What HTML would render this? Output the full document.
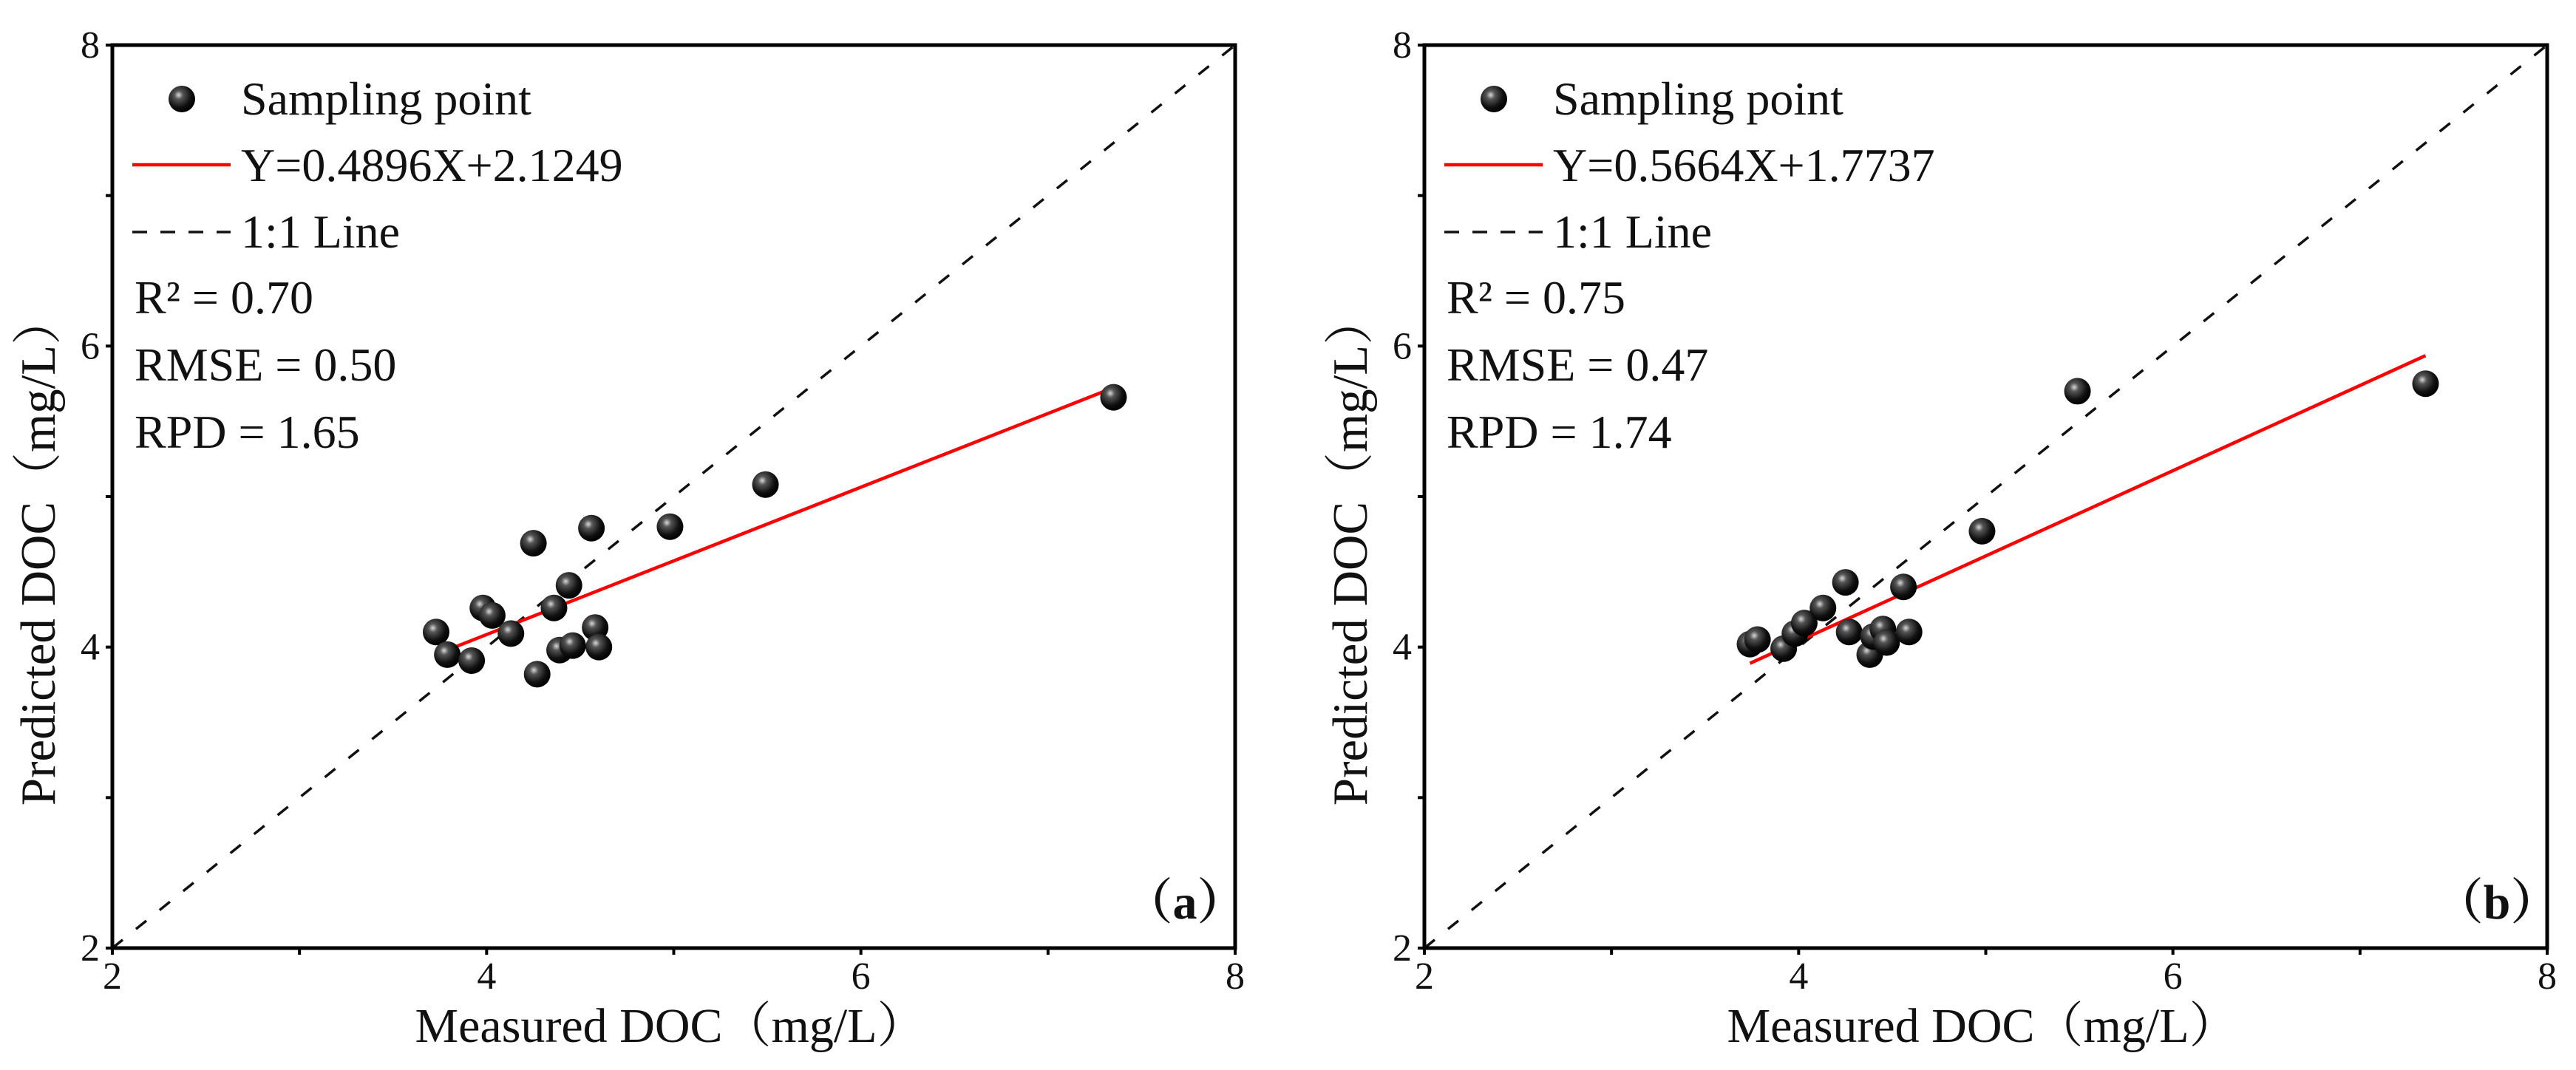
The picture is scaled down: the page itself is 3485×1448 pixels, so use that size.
<!DOCTYPE html>
<html><head><meta charset="utf-8"><style>
html,body{margin:0;padding:0;background:#fff}
svg{display:block}
svg text{font-family:"Liberation Serif","Noto Serif CJK SC",serif;fill:#111}
</style></head><body>
<svg id="chart" width="3485" height="1448" viewBox="0 0 3485 1448" xmlns="http://www.w3.org/2000/svg" font-family="Liberation Serif, Noto Serif CJK SC, serif">
<defs>
<radialGradient id="ball" cx="0.38" cy="0.35" r="0.65">
<stop offset="0" stop-color="#d8d8d8"/><stop offset="0.25" stop-color="#555"/><stop offset="0.7" stop-color="#111"/><stop offset="1" stop-color="#000"/>
</radialGradient>
</defs>
</svg>
<script>
const ticks=[2,3,4,5,6,7,8];
const tickLabels=["2","4","6","8"];
const labelVals=[2,4,6,8];
const aMeasured=[3.73,3.79,3.92,3.98,4.03,4.13,4.25,4.27,4.36,4.39,4.44,4.46,4.56,4.58,4.60,4.98,5.49,7.35];
const aPredicted=[4.10,3.95,3.91,4.26,4.21,4.09,4.69,3.82,4.26,3.98,4.41,4.01,4.79,4.13,4.00,4.80,5.08,5.66];
const bMeasured=[3.74,3.78,3.92,3.98,4.03,4.13,4.25,4.27,4.38,4.40,4.45,4.47,4.56,4.59,4.98,5.49,7.35];
const bPredicted=[4.02,4.05,3.99,4.09,4.16,4.26,4.43,4.10,3.95,4.07,4.12,4.03,4.40,4.10,4.77,5.70,5.75];
const aFit=[0.4896,2.1249];
const bFit=[0.5664,1.7737];
const aStats=["R² = 0.70","RMSE = 0.50","RPD = 1.65"];
const bStats=["R² = 0.75","RMSE = 0.47","RPD = 1.74"];

const svg=document.getElementById('chart');
const NS='http://www.w3.org/2000/svg';
const FF='"Liberation Serif","Noto Serif CJK SC",serif';
function mk(tag,attrs,parent){const e=document.createElementNS(NS,tag);for(const k in attrs)e.setAttribute(k,attrs[k]);if(tag==='text')e.style.fontFamily=FF;(parent||svg).appendChild(e);return e;}

function panel(ox,id,xs,ys,fit,stats,tag){
  const L=ox,R=ox+1519,T=61,B=1283;
  const sx=v=>L+(v-2)/6*(R-L);
  const sy=v=>B-(v-2)/6*(B-T);
  const g=mk('g',{});
  
  
  const d=mk('line',{x1:sx(2),y1:sy(2),x2:sx(8),y2:sy(8),stroke:'#111','stroke-width':3.5,'stroke-dasharray':'18 23'},g);
  
  
  const x0=Math.min(...xs),x1=Math.max(...xs);
  const f=mk('line',{x1:sx(x0),y1:sy(fit[0]*x0+fit[1]),x2:sx(x1),y2:sy(fit[0]*x1+fit[1]),stroke:'#f00','stroke-width':4.5},g);
  
  
  xs.forEach((x,i)=>{
    const c=mk('circle',{cx:sx(x),cy:sy(ys[i]),r:18,fill:'url(#ball)'},g);
    
    
  });
  const fr=mk('rect',{x:L,y:T,width:R-L,height:B-T,fill:'none',stroke:'#000','stroke-width':5},g);
  
  
  ticks.forEach(t=>{
    mk('line',{x1:sx(t),y1:B,x2:sx(t),y2:B+9,stroke:'#000','stroke-width':4},g);
    mk('line',{x1:L,y1:sy(t),x2:L-9,y2:sy(t),stroke:'#000','stroke-width':4},g);
  });
  labelVals.forEach((v,i)=>{
    const tx=mk('text',{x:sx(v),y:1338,'font-size':52,'text-anchor':'middle'},g);
    tx.textContent=tickLabels[i];
    
    
    const ty=mk('text',{x:L-17,y:sy(v)+17,'font-size':52,'text-anchor':'end'},g);
    ty.textContent=tickLabels[i];
    
    
  });
  const xt=mk('text',{x:ox+755,y:1410,'font-size':66,'text-anchor':'middle'},g);
  xt.textContent='Measured DOC（mg/L）';
  
  
  const yt=mk('text',{x:0,y:0,'font-size':67,'text-anchor':'middle',transform:`translate(${ox-78},745) rotate(-90)`},g);
  yt.textContent='Predicted DOC（mg/L）';
  
  
  const lg=mk('g',{},g);
  
  
  mk('circle',{cx:ox+94,cy:134,r:18,fill:'url(#ball)'},lg);
  const t1=mk('text',{x:ox+174,y:155,'font-size':64},lg);t1.textContent='Sampling point';
  
  
  mk('line',{x1:ox+27,y1:223,x2:ox+160,y2:223,stroke:'#f00','stroke-width':4.5},lg);
  const t2=mk('text',{x:ox+174,y:245,'font-size':64},lg);t2.textContent=tag;
  
  
  mk('line',{x1:ox+27,y1:314,x2:ox+160,y2:314,stroke:'#111','stroke-width':3.5,'stroke-dasharray':'20 18'},lg);
  const t3=mk('text',{x:ox+174,y:335,'font-size':64},lg);t3.textContent='1:1 Line';
  
  
  stats.forEach((s,i)=>{
    const st=mk('text',{x:ox+30,y:424+i*91,'font-size':64},g);
    st.textContent=s;
    
    
  });
  const pl=mk('text',{x:ox+1451,y:1243,'font-size':66,'font-weight':'bold','text-anchor':'middle'},g);
  pl.textContent='（'+id+'）';
  
  
}
panel(152,'a',aMeasured,aPredicted,aFit,aStats,'Y=0.4896X+2.1249');
panel(1927,'b',bMeasured,bPredicted,bFit,bStats,'Y=0.5664X+1.7737');
</script>
</body></html>
